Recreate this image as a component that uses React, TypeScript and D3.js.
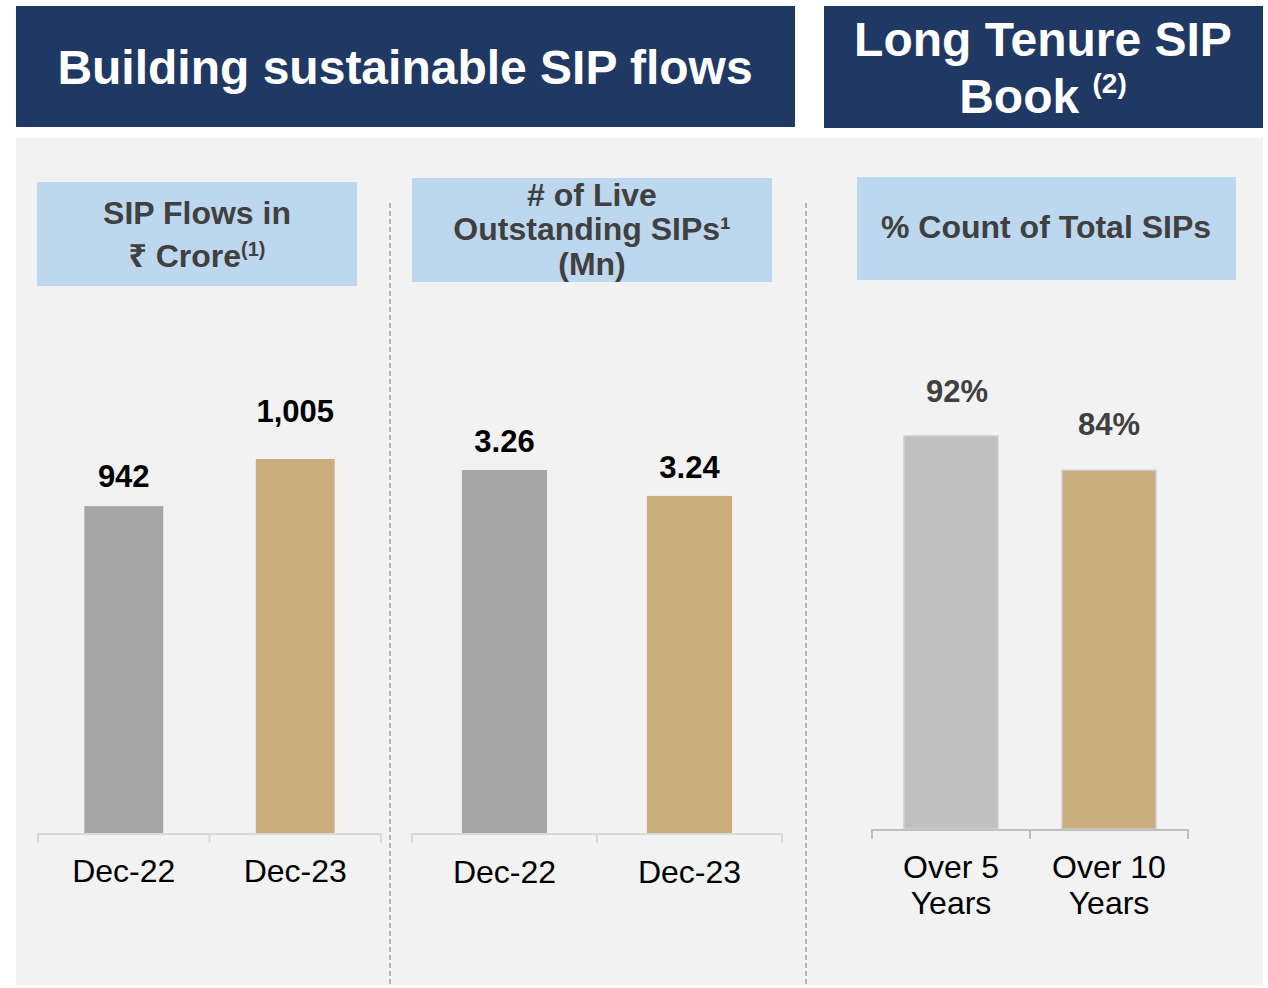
import React from 'react';
import * as d3 from 'd3';

// data
const flowCategories = ['Dec-22', 'Dec-23'];
const flowValues = [942, 1005];
const flowLabels = ['942', '1,005'];

const sipCategories = ['Dec-22', 'Dec-23'];
const sipValues = [3.26, 3.24];
const sipLabels = ['3.26', '3.24'];

const tenureCategories = [['Over 5', 'Years'], ['Over 10', 'Years']];
const tenureValues = [92, 84];
const tenureLabels = ['92%', '84%'];

const FONT = '"Liberation Sans", Arial, "Noto Sans", sans-serif';
const NAVY = '#203864';
const LIGHT_BLUE = '#bdd7ee';
const PANEL_BG = '#f2f2f2';
const TEXT_DARK = '#404040';
const barColors = ['#a6a6a6', '#cbae7e'];
const tenureColors = ['#bfbfbf', '#cbae7e'];

type PanelProps = {
  categories: string[][];
  values: number[];
  labels: string[];
  x: d3.ScaleBand<string>;
  y: d3.ScaleLinear<number, number>;
  barRatio: number;
  colors: string[];
  stroke?: string;
  labelLift: number[];
  labelShift?: number[];
  labelColor: string;
  axisColor: string;
  catOffset: number;
};

const BarPanel = ({ categories, values, labels, x, y, barRatio, colors, stroke, labelLift, labelShift, labelColor, axisColor, catOffset }: PanelProps) => {
  const keys = categories.map((c) => c.join(' '));
  const base = y.range()[0];
  const bw = x.bandwidth() * barRatio;
  const [r0, r1] = x.range();
  const tickXs = [r0, ...keys.slice(1).map((k) => x(k) as number), r1];
  return (
    <g>
      {keys.map((k, i) => {
        const cx = (x(k) as number) + x.bandwidth() / 2;
        const top = y(values[i]);
        return (
          <g key={k}>
            <rect
              x={cx - bw / 2}
              y={top}
              width={bw}
              height={base - top}
              fill={colors[i]}
              stroke={stroke || 'none'}
              strokeWidth={stroke ? 1.5 : 0}
            />
            <text
              x={cx + (labelShift ? labelShift[i] : 0)}
              y={top - labelLift[i]}
              textAnchor="middle"
              fontFamily={FONT}
              fontWeight="bold"
              fontSize={31}
              fill={labelColor}
            >
              {labels[i]}
            </text>
            <text textAnchor="middle" fontFamily={FONT} fontSize={32} fill="#000">
              {categories[i].map((line, j) => (
                <tspan key={j} x={cx} y={base + catOffset + j * 36}>
                  {line}
                </tspan>
              ))}
            </text>
          </g>
        );
      })}
      <line x1={r0} x2={r1} y1={base + 1} y2={base + 1} stroke={axisColor} strokeWidth={2} />
      {tickXs.map((tx, i) => (
        <line key={i} x1={tx} x2={tx} y1={base} y2={base + 10} stroke={axisColor} strokeWidth={2} />
      ))}
    </g>
  );
};

const App = () => {
  const x1 = d3.scaleBand<string>().domain(flowCategories).range([38, 381]).padding(0);
  const y1 = d3.scaleLinear().domain([505, 1005]).range([833, 459]);

  const x2 = d3.scaleBand<string>().domain(sipCategories).range([412, 782]).padding(0);
  const y2 = d3.scaleLinear().domain([2.98, 3.26]).range([833, 470]);

  const x3 = d3
    .scaleBand<string>()
    .domain(tenureCategories.map((c) => c.join(' ')))
    .range([872, 1188])
    .padding(0);
  const y3 = d3.scaleLinear().domain([0, 92]).range([829, 436]);

  const headStyle = { fontFamily: FONT, fontWeight: 'bold' as const, fontSize: 32, fill: TEXT_DARK };

  return (
    <svg width={1268} height={988} style={{ position: 'absolute', left: 0, top: 0, background: '#fff' }}>
      {/* title bars */}
      <rect x={16} y={6} width={779} height={121} fill={NAVY} />
      <text x={405} y={84} textAnchor="middle" fontFamily={FONT} fontWeight="bold" fontSize={48} fill="#fff">
        Building sustainable SIP flows
      </text>
      <rect x={824} y={6} width={439} height={122} fill={NAVY} />
      <text textAnchor="middle" fontFamily={FONT} fontWeight="bold" fontSize={48} fill="#fff">
        <tspan x={1043} y={56}>Long Tenure SIP</tspan>
        <tspan x={1043} y={113}>
          Book <tspan fontSize={28} dy={-20}>(2)</tspan>
        </tspan>
      </text>

      {/* grey panel */}
      <rect x={16} y={138} width={1247} height={847} fill={PANEL_BG} />
      <line x1={390} x2={390} y1={203} y2={985} stroke="#a6a6a6" strokeWidth={1.5} strokeDasharray="5 3" />
      <line x1={806} x2={806} y1={203} y2={985} stroke="#a6a6a6" strokeWidth={1.5} strokeDasharray="5 3" />

      {/* sub headers */}
      <rect x={37} y={182} width={320} height={104} fill={LIGHT_BLUE} />
      <text textAnchor="middle" {...headStyle}>
        <tspan x={197} y={224}>SIP Flows in</tspan>
        <tspan x={197} y={267}>
          ₹ Crore<tspan fontSize={20} dy={-11}>(1)</tspan>
        </tspan>
      </text>

      <rect x={412} y={178} width={360} height={104} fill={LIGHT_BLUE} />
      <text textAnchor="middle" {...headStyle}>
        <tspan x={592} y={206}># of Live</tspan>
        <tspan x={592} y={240}>Outstanding SIPs¹</tspan>
        <tspan x={592} y={275}>(Mn)</tspan>
      </text>

      <rect x={857} y={177} width={379} height={103} fill={LIGHT_BLUE} />
      <text x={1046} y={238} textAnchor="middle" {...headStyle}>
        % Count of Total SIPs
      </text>

      <BarPanel
        categories={flowCategories.map((c) => [c])}
        values={flowValues}
        labels={flowLabels}
        x={x1}
        y={y1}
        barRatio={0.46}
        colors={barColors}
        labelLift={[19, 37]}
        labelColor="#000"
        axisColor="#d9d9d9"
        catOffset={49}
      />
      <BarPanel
        categories={sipCategories.map((c) => [c])}
        values={sipValues}
        labels={sipLabels}
        x={x2}
        y={y2}
        barRatio={0.46}
        colors={barColors}
        labelLift={[18, 18]}
        labelColor="#000"
        axisColor="#d9d9d9"
        catOffset={50}
      />
      <BarPanel
        categories={tenureCategories}
        values={tenureValues}
        labels={tenureLabels}
        x={x3}
        y={y3}
        barRatio={0.595}
        colors={tenureColors}
        stroke="#d0d0d0"
        labelLift={[34, 35]}
        labelShift={[6, 0]}
        labelColor={TEXT_DARK}
        axisColor="#bfbfbf"
        catOffset={49}
      />
    </svg>
  );
};

export default App;
